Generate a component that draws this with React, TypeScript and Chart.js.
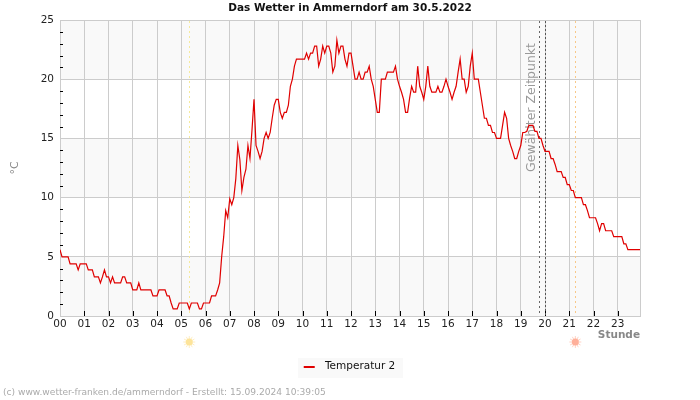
import React, { useEffect, useRef } from "react";
import { Chart, registerables } from "chart.js";

Chart.register(...registerables);

const FONT = "'DejaVu Sans'";
const chartTitle = "Das Wetter in Ammerndorf am 30.5.2022";
const seriesLabel = "Temperatur 2";
const yTitle = "°C";
const xTitle = "Stunde";
const selectedLabel = "Gewählter Zeitpunkt";
const footer = "(c) www.wetter-franken.de/ammerndorf - Erstellt: 15.09.2024 10:39:05";

const hourLabels = ["00","01","02","03","04","05","06","07","08","09","10","11","12","13","14","15","16","17","18","19","20","21","22","23"];
const samplesPerHour = 12;
const yMajor = [0, 5, 10, 15, 20, 25];
const yMinor = [1,2,3,4,6,7,8,9,11,12,13,14,16,17,18,19,21,22,23,24];
const bands = [[0, 5], [10, 15], [20, 25]];
const sunriseHour = 5.33;
const sunsetHour = 21.25;
const selectedHours = [19.75, 20];

const temps = [
  5.6,5.0,5.0,5.0,5.0,4.4,4.4,4.4,4.4,3.9,4.4,4.4,
  4.4,4.4,3.9,3.9,3.9,3.3,3.3,3.3,2.8,3.3,3.9,3.3,
  3.3,2.8,3.3,2.8,2.8,2.8,2.8,3.3,3.3,2.8,2.8,2.8,
  2.2,2.2,2.2,2.8,2.2,2.2,2.2,2.2,2.2,2.2,1.7,1.7,
  1.7,2.2,2.2,2.2,2.2,1.7,1.7,1.1,0.6,0.6,0.6,1.1,
  1.1,1.1,1.1,1.1,0.6,1.1,1.1,1.1,1.1,0.6,0.6,1.1,
  1.1,1.1,1.1,1.7,1.7,1.7,2.2,2.8,5.0,6.7,8.9,8.3,
  9.9,9.4,10.0,11.6,14.4,13.2,10.6,11.7,12.4,14.4,13.3,15.7,
  18.3,14.4,13.9,13.3,13.9,15.0,15.5,15.0,15.5,16.7,17.8,18.3,
  18.3,17.2,16.7,17.2,17.2,17.8,19.4,20.0,21.1,21.7,21.7,21.7,
  21.7,21.7,22.2,21.7,22.2,22.2,22.8,22.8,21.1,21.7,22.8,22.2,
  22.8,22.8,22.2,20.6,21.1,23.3,22.2,22.8,22.8,21.7,21.1,22.2,
  22.2,21.1,20.0,20.0,20.6,20.0,20.0,20.6,20.6,21.1,20.0,19.4,
  18.3,17.2,17.2,20.0,20.0,20.0,20.6,20.6,20.6,20.6,21.1,20.0,
  19.4,18.9,18.3,17.2,17.2,18.4,19.4,18.9,18.9,21.1,19.4,18.9,
  18.3,19.4,21.1,19.4,18.9,18.9,18.9,19.4,18.9,18.9,19.4,20.0,
  19.4,18.9,18.3,18.9,19.4,20.6,21.7,20.0,20.0,18.9,19.4,21.1,
  22.2,20.0,20.0,20.0,18.9,17.8,16.7,16.7,16.1,16.1,15.5,15.5,
  15.0,15.0,15.0,16.1,17.2,16.7,15.0,14.4,13.9,13.3,13.3,13.9,
  14.4,15.5,15.5,15.6,16.1,16.1,16.1,15.6,15.6,15.0,15.0,14.4,
  13.9,13.9,13.9,13.3,13.3,12.8,12.2,12.2,12.2,11.7,11.7,11.1,
  11.1,10.6,10.6,10.0,10.0,10.0,10.0,9.4,9.4,8.9,8.3,8.3,
  8.3,8.3,7.8,7.2,7.8,7.8,7.2,7.2,7.2,7.2,6.7,6.7,
  6.7,6.7,6.7,6.1,6.1,5.6,5.6,5.6,5.6,5.6,5.6,5.6,
];

const decorations = {
  id: "decorations",
  beforeDraw(chart: any) {
    const { ctx, chartArea: a, scales: { y }, legend } = chart;
    ctx.save();
    ctx.fillStyle = "#f9f9f9";
    for (const [lo, hi] of bands) {
      const top = y.getPixelForValue(hi);
      ctx.fillRect(a.left, top, a.right - a.left, y.getPixelForValue(lo) - top);
    }
    if (legend) ctx.fillRect(298, legend.top - 1, 105, 20);
    ctx.restore();
  },
  beforeDatasetsDraw(chart: any) {
    const { ctx, chartArea: a, scales: { x, y } } = chart;
    const hourX = (h: number) => Math.round(x.getPixelForValue(h * samplesPerHour)) + 0.5;
    ctx.save();
    ctx.strokeStyle = "#cccccc";
    ctx.lineWidth = 1;
    ctx.strokeRect(a.left + 0.5, a.top + 0.5, a.right - a.left, a.bottom - a.top);
    ctx.strokeStyle = "#000000";
    ctx.beginPath();
    for (let i = 1; i < hourLabels.length; i++) {
      const px = hourX(i);
      ctx.moveTo(px, a.bottom);
      ctx.lineTo(px, a.bottom - 5);
    }
    for (const v of yMinor) {
      const py = Math.round(y.getPixelForValue(v)) + 0.5;
      ctx.moveTo(a.left, py);
      ctx.lineTo(a.left + 3, py);
    }
    ctx.stroke();
    const vline = (h: number, color: string, dash: number[]) => {
      ctx.strokeStyle = color;
      ctx.setLineDash(dash);
      ctx.beginPath();
      ctx.moveTo(hourX(h), a.top + 1);
      ctx.lineTo(hourX(h), a.bottom);
      ctx.stroke();
    };
    vline(sunriseHour, "#f5ea9a", [2, 3]);
    vline(sunsetHour, "#f8c888", [2, 3]);
    vline(selectedHours[0], "#666666", [2, 3]);
    vline(selectedHours[1], "#555555", [2, 2]);
    ctx.setLineDash([]);
    ctx.save();
    ctx.translate(hourX(selectedHours[0]) - 8, a.top + 23);
    ctx.rotate(-Math.PI / 2);
    ctx.fillStyle = "#999999";
    ctx.font = `12.5px ${FONT}`;
    ctx.textAlign = "right";
    ctx.textBaseline = "middle";
    ctx.fillText(selectedLabel, 0, 0);
    ctx.restore();
    ctx.restore();
  },
  afterDraw(chart: any) {
    const { ctx, chartArea: a, scales: { x }, legend } = chart;
    ctx.save();
    const sun = (h: number, color: string, ray: string) => {
      const cx = x.getPixelForValue(h * samplesPerHour);
      const cy = a.bottom + 26;
      ctx.strokeStyle = ray;
      ctx.lineWidth = 1;
      ctx.beginPath();
      for (let k = 0; k < 12; k++) {
        const t = (k * Math.PI) / 6;
        ctx.moveTo(cx + Math.cos(t) * 3, cy + Math.sin(t) * 3);
        ctx.lineTo(cx + Math.cos(t) * 6, cy + Math.sin(t) * 6);
      }
      ctx.stroke();
      ctx.fillStyle = color;
      ctx.beginPath();
      ctx.arc(cx, cy, 3.5, 0, Math.PI * 2);
      ctx.fill();
    };
    sun(sunriseHour, "#fde49a", "#feeec4");
    sun(sunsetHour, "#ffb09a", "#ffd2c4");
    const hit = legend && legend.legendHitBoxes && legend.legendHitBoxes[0];
    if (hit) {
      ctx.fillStyle = chart.data.datasets[0].borderColor;
      ctx.fillRect(hit.left - 1, Math.round(hit.top + hit.height / 2) - 1, 11, 2);
    }
    ctx.fillStyle = "#aaaaaa";
    ctx.font = `9.1px ${FONT}`;
    ctx.textAlign = "left";
    ctx.textBaseline = "middle";
    ctx.fillText(footer, 3, 393);
    ctx.restore();
  },
};

export default function App() {
  const ref = useRef<HTMLCanvasElement>(null);
  useEffect(() => {
    document.body.style.margin = "0";
    const chart = new Chart(ref.current!, {
      type: "line",
      data: {
        datasets: [
          {
            label: seriesLabel,
            data: temps.map((v, i) => ({ x: i, y: v })),
            borderColor: "#e00000",
            backgroundColor: "#e00000",
            borderWidth: 1.2,
            pointRadius: 0,
            tension: 0,
          },
        ],
      },
      options: {
        animation: false,
        responsive: false,
        devicePixelRatio: 1,
        layout: { padding: { left: 0, right: 0, top: 0, bottom: 18 } },
        plugins: {
          title: {
            display: true,
            text: chartTitle,
            color: "#111111",
            font: { family: FONT, size: 10.5, weight: "bold" },
            padding: { top: 2, bottom: 5.4 },
          },
          legend: {
            display: true,
            position: "bottom",
            labels: {
              boxWidth: 15,
              boxHeight: 2,
              color: "#111111",
              font: { family: FONT, size: 10.5 },
              padding: 2.5,
              generateLabels: () => [
                {
                  text: seriesLabel,
                  fillStyle: "rgba(0,0,0,0)",
                  strokeStyle: "rgba(0,0,0,0)",
                  lineWidth: 0,
                  hidden: false,
                  datasetIndex: 0,
                  fontColor: "#111111",
                },
              ],
            },
          },
          tooltip: { enabled: false },
        },
        scales: {
          x: {
            type: "linear",
            min: 0,
            max: temps.length - 1,
            afterBuildTicks: (s: any) => {
              s.ticks = hourLabels.map((_, i) => ({ value: i * samplesPerHour }));
            },
            afterFit: (s: any) => {
              s.height = 43;
            },
            ticks: {
              autoSkip: false,
              maxRotation: 0,
              color: "#222222",
              font: { family: FONT, size: 10.5 },
              padding: 2,
              callback: (v: any) => hourLabels[Math.round(v / samplesPerHour)],
            },
            grid: { color: "#cccccc", drawTicks: false },
            border: { color: "#cccccc" },
            title: {
              display: true,
              text: xTitle,
              align: "end",
              color: "#888888",
              font: { family: FONT, size: 10.5, weight: "bold" },
              padding: { top: 0, bottom: 17.5 },
            },
          },
          y: {
            min: 0,
            max: 25,
            afterBuildTicks: (s: any) => {
              s.ticks = yMajor.map((value) => ({ value }));
            },
            afterFit: (s: any) => {
              s.width = 60;
            },
            ticks: {
              color: "#222222",
              font: { family: FONT, size: 10.5 },
              padding: 6,
            },
            grid: { color: "#cccccc", drawTicks: false },
            border: { color: "#cccccc" },
            title: {
              display: true,
              text: yTitle,
              color: "#888888",
              font: { family: FONT, size: 11 },
              padding: { top: 9, bottom: 0 },
            },
          },
          spacer: {
            position: "right",
            grid: { display: false },
            border: { display: false },
            ticks: { display: false },
            afterFit: (s: any) => {
              s.width = 60;
            },
          },
        },
      },
      plugins: [decorations],
    } as any);
    return () => chart.destroy();
  }, []);
  return <canvas ref={ref} width={700} height={400} style={{ display: "block" }} />;
}
